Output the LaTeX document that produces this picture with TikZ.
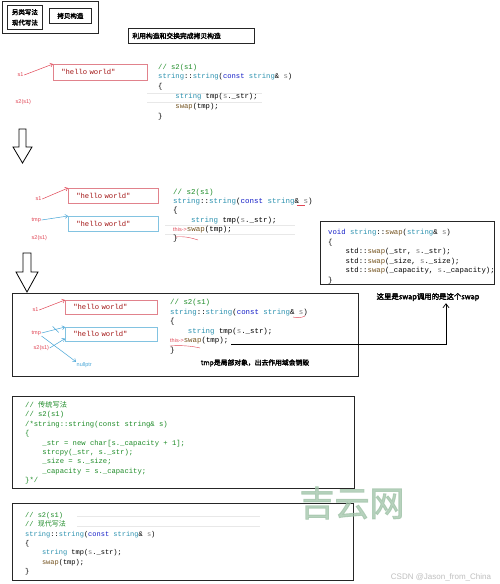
\documentclass[tikz,border=0pt]{standalone}
\usepackage{fontspec}
\setmainfont{Liberation Sans}
\setmonofont{Liberation Mono}
\newfontfamily\cjk{Noto Sans CJK SC}[AutoFakeBold=2.5]
\usetikzlibrary{arrows.meta,calc}
\definecolor{ccm}{RGB}{30,140,40}
\definecolor{cty}{RGB}{43,145,175}
\definecolor{ckw}{RGB}{20,30,200}
\definecolor{cpa}{RGB}{128,128,128}
\definecolor{cfn}{RGB}{116,83,31}
\definecolor{hred}{RGB}{225,70,85}
\definecolor{hblue}{RGB}{70,165,215}
\definecolor{boxred}{RGB}{225,130,140}
\definecolor{boxblue}{RGB}{130,195,225}
\definecolor{strred}{RGB}{163,21,21}
\definecolor{wm}{RGB}{160,195,168}
\newcommand{\Ccm}[1]{\textcolor{ccm}{#1}}
\newcommand{\Cty}[1]{\textcolor{cty}{#1}}
\newcommand{\Ckw}[1]{\textcolor{ckw}{#1}}
\newcommand{\Cpa}[1]{\textcolor{cpa}{#1}}
\newcommand{\Cfn}[1]{\textcolor{cfn}{#1}}
\newcommand{\Chw}[1]{{\color{hred}\normalfont\fontsize{5.5}{6}\selectfont #1}}
\newcommand{\ind}{\hphantom{xxxx}}
\newcommand{\Lctor}{\Cty{string}::\Cty{string}(\Ckw{const} \Cty{string}\& \Cpa{s})}
\newcommand{\Ltmp}{\ind\Cty{string} tmp(\Cpa{s}.\_str);}
\newcommand{\codesize}[1]{\fontsize{#1}{#1}\selectfont\ttfamily}
\tikzset{
  frame/.style={draw=black!85, line width=0.8pt, inner sep=0pt},
  code/.style={anchor=base west, inner sep=0pt, font={\codesize{#1}}},
  lab/.style={anchor=west, inner sep=0.5pt, text=hred, font=\fontsize{5.5}{6}\selectfont},
  hw/.style={anchor=north west, inner xsep=8pt, inner ysep=0pt, align=left, text=strred, font={\codesize{7.2}}, line width=0.6pt},
  harrow/.style={line width=0.5pt, -{Straight Barb[length=2.5pt,width=4pt]}},
  hl/.style={draw=black!9, line width=0.4pt},
  cn/.style={font={\cjk\bfseries\fontsize{6.8}{9}\selectfont}, inner sep=0pt},
  conn/.style={line width=0.7pt, -{Straight Barb[length=4pt,width=6pt]}}
}
\begin{document}
\begin{tikzpicture}[x=1pt,y=-1pt]
\useasboundingbox (0,0) rectangle (500,584);
\fill[white] (0,0) rectangle (500,584);

% ---- top-left boxes
\node[frame, anchor=north west, minimum width=96pt, minimum height=32pt] (tl) at (2,1) {};
\node[frame, anchor=north west, minimum width=35pt, minimum height=24pt, align=center, cn, font={\cjk\bfseries\fontsize{6.5}{10.5}\selectfont}] (alt) at (7,5) {另类写法\\现代写法};
\node[frame, anchor=north west, minimum width=42pt, minimum height=15pt, cn, font={\cjk\bfseries\fontsize{6.5}{8}\selectfont}] (cp) at (49,8) {拷贝构造};
\node[frame, anchor=north west, minimum width=126pt, minimum height=15pt, cn, font={\cjk\bfseries\fontsize{6.8}{8}\selectfont}, text width=118pt, inner xsep=4pt, align=left] (use) at (128,28) {利用构造和交换完成拷贝构造};

% ---- block 1
\node[lab] (b1s1) at (17,75) {s1};
\node[hw, draw=boxred, text width=78pt, minimum height=16pt] (b1hw) at (53,64) {"hello world"};
\draw[harrow, hred] (b1s1.east) -- (b1hw.north west);
\node[lab] (b1s2) at (15,102) {s2(s1)};
\draw[hl] (147,93) -- (262,93);
\draw[hl] (147,102) -- (262,102);
\foreach \t [count=\i] in {{\Ccm{// s2(s1)}}, {\Lctor}, {\{}, {\Ltmp}, {\ind\Cfn{swap}(tmp);}, {\}}}
  \node[code=7.2] (b1-\i) at (158,59.1+\i*9.9) {\t};

% ---- arrow 1
\draw[line width=0.8pt] (19,129) -- (26,129) -- (26,147) -- (32,147) -- (22.5,163) -- (13,147) -- (19,147) -- cycle;

% ---- block 2
\node[lab] (b2s1) at (35,199) {s1};
\node[lab] (b2tmp) at (31,220) {tmp};
\node[lab] (b2s2) at (31,238) {s2(s1)};
\node[hw, draw=boxred, text width=74pt, minimum height=15pt] (b2red) at (68,188) {"hello world"};
\node[hw, draw=boxblue, text width=74pt, minimum height=15pt] (b2blue) at (68,216) {"hello world"};
\draw[harrow, hred] (b2s1.east) -- (b2red.north west);
\draw[harrow, hblue] (b2tmp.east) -- (b2blue.north west);
\draw[hl] (165,225) -- (295,225);
\draw[hl] (165,234) -- (295,234);
\foreach \t [count=\i] in {{\Ccm{// s2(s1)}}, {\Lctor}, {\{}, {\Ltmp}, {\Chw{this-{}>}\Cfn{swap}(tmp);}, {\}}}
  \node[code=7.5] (b2-\i) at (173,185.3+\i*9.2) {\t};
\draw[hred, line width=0.4pt] (175,237) .. controls (185,236) and (192,238) .. (198,240);
\draw[hred, line width=0.4pt] (297,205) -- (305,205);

% ---- swap box
\node[frame, anchor=north west, minimum width=174pt, minimum height=63pt] (swapbox) at (320,221) {};
\foreach \t [count=\i] in {{\Ckw{void} \Cty{string}::\Cfn{swap}(\Cty{string}\& \Cpa{s})}, {\{}, {\ind std::\Cfn{swap}(\_str, \Cpa{s}.\_str);}, {\ind std::\Cfn{swap}(\_size, \Cpa{s}.\_size);}, {\ind std::\Cfn{swap}(\_capacity, \Cpa{s}.\_capacity);}, {\}}}
  \node[code=7.3] (sw-\i) at (328,224.9+\i*9.6) {\t};

% ---- arrow 2
\draw[line width=0.8pt] (23,253) -- (31,253) -- (31,272) -- (38,272) -- (27,292) -- (16,272) -- (23,272) -- cycle;

% ---- block 3
\node[frame, anchor=north west, minimum width=346pt, minimum height=83pt] (b3) at (12,293) {};
\node[lab] (b3s1) at (32,310) {s1};
\node[lab] (b3tmp) at (31,333) {tmp};
\node[lab] (b3s2) at (33,348) {s2(s1)};
\node[lab, text=hblue] (b3null) at (76,365) {nullptr};
\node[hw, draw=boxred, text width=76pt, minimum height=14pt, inner xsep=8pt] (b3red) at (65,300) {"hello world"};
\node[hw, draw=boxblue, text width=76pt, minimum height=14pt, inner xsep=8pt] (b3blue) at (65,327) {"hello world"};
\draw[harrow, hred] (b3s1.east) -- (b3red.north west);
\draw[harrow, hblue] (b3tmp.east) -- (b3blue.north west);
\draw[hblue, line width=0.5pt] ($(b3tmp.east)!0.6!(b3blue.north west)$) +(-3,-3) -- +(3,3);
\draw[harrow, hblue] (b3s2.east) -- ([yshift=3pt]b3blue.south west);
\draw[harrow, hblue] (b3tmp.south east) -- (b3null.north west);
\foreach \t [count=\i] in {{\Ccm{// s2(s1)}}, {\Lctor}, {\{}, {\Ltmp}, {\Chw{this-{}>}\Cfn{swap}(tmp);}, {\}}}
  \node[code=7.4] (b3-\i) at (170,294.9+\i*9.6) {\t};
\draw[hred, line width=0.4pt] (293,317) .. controls (297,318) and (301,318) .. (305,316);
\draw[hred, line width=0.4pt] (170,346) .. controls (180,345) and (192,346) .. (200,348);
\node[cn] (tmpnote) at (255,363) {tmp是局部对象，出去作用域会销毁};

% ---- note and connector
\node[cn, font={\cjk\bfseries\fontsize{7.4}{9}\selectfont}] (note) at (428,297) {这里是swap调用的是这个swap};
\coordinate (turn) at (446,344);
\draw[conn] ([xshift=3pt,yshift=-1.5pt]b3-5.base east) -| ([yshift=-2pt]note.south -| turn);

% ---- block 4
\node[frame, anchor=north west, minimum width=342pt, minimum height=92pt] (b4) at (12,396) {};
\foreach \t [count=\i] in {{\Ccm{// {\cjk 传统写法}}}, {\Ccm{// s2(s1)}}, {\Ccm{/*string::string(const string\& s)}}, {\Ccm{\{}}, {\Ccm{\ind\_str = new char[s.\_capacity + 1];}}, {\Ccm{\ind strcpy(\_str, s.\_str);}}, {\Ccm{\ind\_size = s.\_size;}}, {\Ccm{\ind\_capacity = s.\_capacity;}}, {\Ccm{\}*/}}}
  \node[code=7.2] (b4-\i) at (25,398.1+\i*9.4) {\t};

% ---- block 5
\node[frame, anchor=north west, minimum width=341pt, minimum height=77pt] (b5) at (12,503) {};
\draw[hl] (77,516.5) -- (260,516.5);
\draw[hl] (77,526.5) -- (260,526.5);
\foreach \t [count=\i] in {{\Ccm{// s2(s1)}}, {\Ccm{// {\cjk 现代写法}}}, {\Lctor}, {\{}, {\Ltmp}, {\ind\Cfn{swap}(tmp);}, {\}}}
  \node[code=7.0] (b5-\i) at (25,508.2+\i*9.3) {\t};

% ---- watermarks
\node[font={\cjk\bfseries\fontsize{35}{35}\selectfont}, text=wm, opacity=0.75, inner sep=0pt] (wm) at (352,503) {吉云网};
\node[font=\fontsize{8}{9}\selectfont, text=black!25, inner sep=0pt] (csdn) at (441,577) {CSDN @Jason\_from\_China};
\end{tikzpicture}
\end{document}
